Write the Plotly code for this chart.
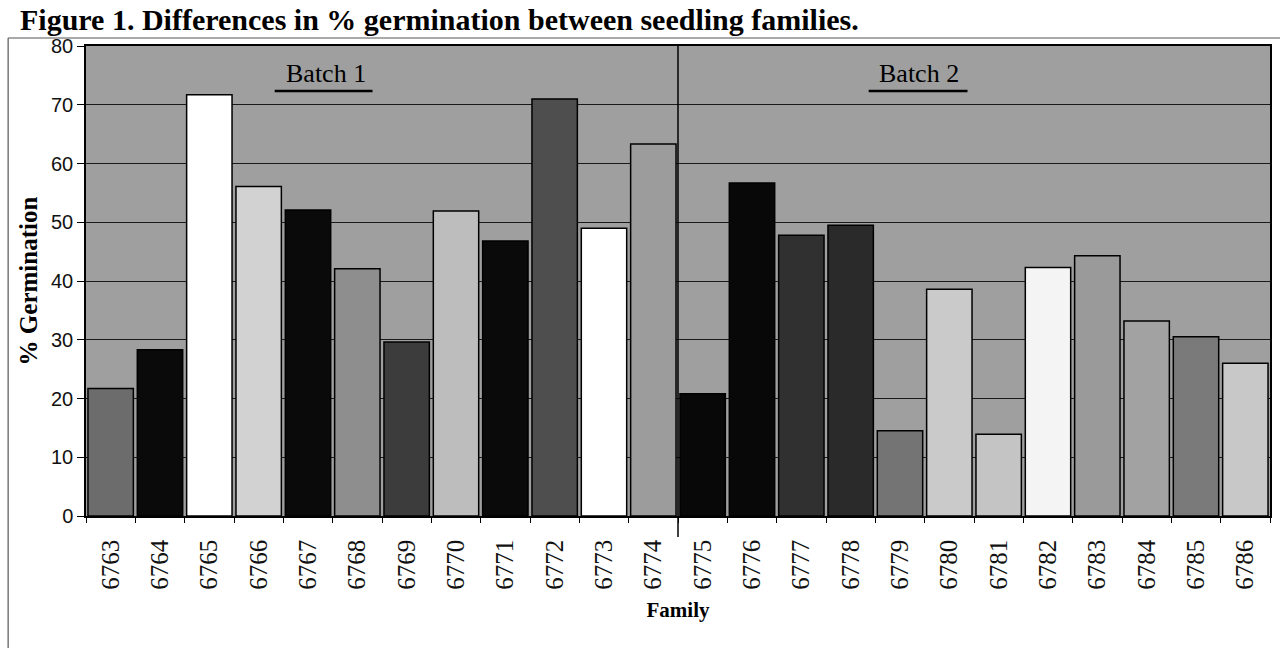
import plotly.graph_objects as go

# Seedling families and their germination percentages
families = ["6763", "6764", "6765", "6766", "6767", "6768", "6769", "6770",
            "6771", "6772", "6773", "6774",
            "6775", "6776", "6777", "6778", "6779", "6780", "6781", "6782",
            "6783", "6784", "6785", "6786"]
germination = [21.7, 28.3, 71.7, 56.1, 52.1, 42.1, 29.6, 51.9,
               46.8, 71.0, 49.0, 63.3,
               20.8, 56.7, 47.8, 49.5, 14.5, 38.6, 13.9, 42.3,
               44.3, 33.2, 30.5, 26.0]
batch_labels = ["Batch 1", "Batch 2"]
y_ticks = [0, 10, 20, 30, 40, 50, 60, 70, 80]

# Grey shades used for the individual bars
bar_colors = ["#6c6c6c", "#0a0a0a", "#ffffff", "#d2d2d2", "#0a0a0a", "#8e8e8e",
              "#3c3c3c", "#bdbdbd", "#0a0a0a", "#4e4e4e", "#ffffff", "#9c9c9c",
              "#080808", "#080808", "#303030", "#2a2a2a", "#747474", "#cacaca",
              "#c4c4c4", "#f4f4f4", "#9a9a9a", "#a2a2a2", "#7a7a7a", "#c8c8c8"]

serif = "Liberation Serif, Times New Roman, serif"
narrow = "Liberation Sans Narrow, Liberation Sans, Arial, sans-serif"

fig = go.Figure()
fig.add_trace(go.Bar(
    x=families,
    y=germination,
    marker=dict(color=bar_colors, line=dict(color="#000000", width=1.5)),
    hoverinfo="x+y",
))

W, H = 1282, 648
L, R, T, B = 86, 10, 46, 132
pw, ph = W - L - R, H - T - B


def px_x(p):
    return (p - L) / pw


def px_y(p):
    return (H - B - p) / ph


fig.update_layout(
    width=W, height=H,
    margin=dict(l=L, r=R, t=T, b=B, pad=0),
    paper_bgcolor="#ffffff",
    plot_bgcolor="#9f9f9f",
    bargap=0.08,
    showlegend=False,
    xaxis=dict(
        type="category",
        tickangle=-90,
        tickfont=dict(family=serif, size=25, color="#111111"),
        ticks="outside", ticklen=5, tickcolor="#000000",
        tickson="boundaries",
        ticklabelstandoff=12,
        showline=True, linecolor="#000000", linewidth=1.5,
        mirror=True,
        showgrid=False,
        title=dict(text="<b>Family</b>", font=dict(family=serif, size=21, color="#000000"),
                   standoff=14),
    ),
    yaxis=dict(
        range=[0, 80],
        tickvals=y_ticks,
        tickfont=dict(family=narrow, size=20, color="#111111"),
        ticks="outside", ticklen=7, tickcolor="#000000",
        showline=True, linecolor="#000000", linewidth=1.5,
        mirror=True,
        showgrid=True, gridcolor="#1a1a1a", gridwidth=1.2,
        zeroline=False,
        title=dict(text="<b>% Germination</b>", font=dict(family=serif, size=25, color="#000000"),
                   standoff=6),
    ),
)

# Divider between the two batches
fig.add_shape(type="line", xref="x", yref="paper",
              x0=11.5, x1=11.5, y0=px_y(537), y1=1,
              line=dict(color="#000000", width=1.5))

# Batch headings with underlines
for label, cx, x0, x1 in [(batch_labels[0], 326, 275, 373), (batch_labels[1], 920, 870, 969)]:
    fig.add_annotation(text=label, xref="paper", yref="paper",
                       x=px_x(cx), y=px_y(74), xanchor="center", yanchor="middle",
                       showarrow=False,
                       font=dict(family=serif, size=26, color="#000000"))
    fig.add_shape(type="line", xref="paper", yref="paper",
                  x0=px_x(x0), x1=px_x(x1), y0=px_y(91), y1=px_y(91),
                  line=dict(color="#000000", width=2.5))

# Figure caption across the top
fig.add_annotation(text="<b>Figure 1. Differences in % germination between seedling families.</b>",
                   xref="paper", yref="paper", x=px_x(18), y=px_y(1),
                   xanchor="left", yanchor="top", showarrow=False,
                   font=dict(family=serif, size=30, color="#000000"))

# Outer frame lines
fig.add_shape(type="line", xref="paper", yref="paper",
              x0=px_x(8), x1=px_x(1282), y0=px_y(38), y1=px_y(38),
              line=dict(color="#555555", width=1.2))
fig.add_shape(type="line", xref="paper", yref="paper",
              x0=px_x(8), x1=px_x(8), y0=px_y(38), y1=px_y(648),
              line=dict(color="#555555", width=1.2))

fig.write_html("out.html")
